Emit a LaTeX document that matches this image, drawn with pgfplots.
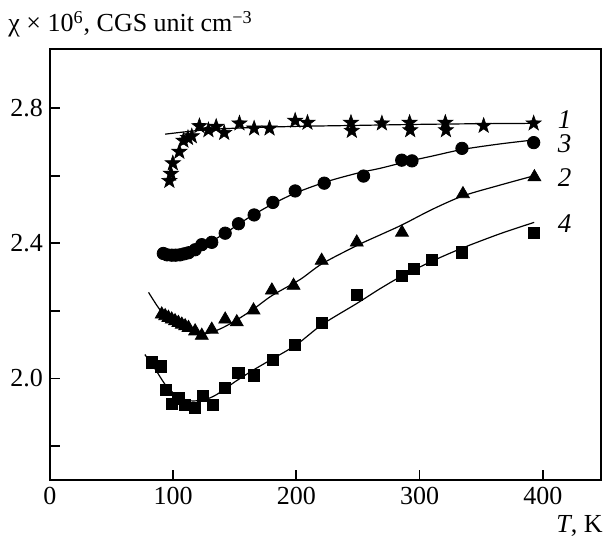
\documentclass[border=0pt]{standalone}
\usepackage{fontspec}
\setmainfont{Liberation Serif}
\usepackage{pgfplots}
\pgfplotsset{compat=1.18}

\pgfdeclareplotmark{fstar}{%
  \pgfpathmoveto{\pgfpointpolar{90}{1.25\pgfplotmarksize}}%
  \pgfpathlineto{\pgfpointpolar{126}{0.5\pgfplotmarksize}}%
  \pgfpathlineto{\pgfpointpolar{162}{1.25\pgfplotmarksize}}%
  \pgfpathlineto{\pgfpointpolar{198}{0.5\pgfplotmarksize}}%
  \pgfpathlineto{\pgfpointpolar{234}{1.25\pgfplotmarksize}}%
  \pgfpathlineto{\pgfpointpolar{270}{0.5\pgfplotmarksize}}%
  \pgfpathlineto{\pgfpointpolar{306}{1.25\pgfplotmarksize}}%
  \pgfpathlineto{\pgfpointpolar{342}{0.5\pgfplotmarksize}}%
  \pgfpathlineto{\pgfpointpolar{18}{1.25\pgfplotmarksize}}%
  \pgfpathlineto{\pgfpointpolar{54}{0.5\pgfplotmarksize}}%
  \pgfpathclose
  \pgfusepathqfillstroke}

\begin{document}
\begin{tikzpicture}[font=\fontsize{13}{15}\selectfont]
\begin{axis}[
  scale only axis, width=275.4pt, height=215.5pt,
  xmin=0, xmax=447, ymin=1.7, ymax=2.975,
  clip=false,
  axis line style={line width=1pt},
  tick align=inside, tick pos=left, major tick length=5pt,
  tick style={line width=0.9pt, black},
  xtick={0,100,200,300,400}, xticklabels={0,100,200,300,400},
  ytick={1.8,2.0,2.2,2.4,2.6,2.8}, yticklabels={{},2.0,{},2.4,{},2.8},
  /pgf/number format/assume math mode=true,
  tick label style={font=\fontsize{13}{15}\selectfont},
]
% fitted curves
\addplot[black, line width=0.6pt, smooth, no marks] coordinates {
(93.4,2.723) (110,2.730) (130,2.737) (160,2.742) (200,2.746) (250,2.749) (300,2.752) (350,2.754) (393,2.755)};
\addplot[black, line width=0.6pt, smooth, no marks] coordinates {
(92,2.368) (105,2.365) (120,2.385) (140,2.425) (160,2.473) (180,2.515) (200,2.550) (225,2.583) (250,2.608) (268,2.622) (290,2.642) (310,2.658) (335,2.678) (365,2.694) (393,2.706)};
\addplot[black, line width=0.6pt, smooth, no marks] coordinates {
(80,2.255) (90,2.200) (100,2.170) (110,2.150) (124,2.132) (137,2.145) (150,2.170) (165,2.205) (180,2.245) (203,2.293) (221,2.340) (250,2.395) (268,2.425) (286,2.455) (310,2.500) (335,2.540) (365,2.572) (393,2.600)};
\addplot[black, line width=0.6pt, smooth, no marks] coordinates {
(77,2.071) (85,2.030) (95,1.975) (105,1.945) (114,1.934) (125,1.937) (135,1.952) (150,1.990) (165,2.025) (180,2.057) (200,2.100) (221,2.160) (249,2.222) (268,2.266) (286,2.304) (310,2.347) (334,2.385) (365,2.428) (393,2.462)};

% 1: stars
\addplot[only marks, mark=fstar, mark size=3.2pt, black, mark options={fill=black, line width=0.3pt}] coordinates {
(96.9,2.585) (98.2,2.606) (99.7,2.637) (105,2.671) (108.3,2.704) (112,2.712) (115.1,2.717) (121.3,2.747) (128.6,2.735) (134.9,2.745) (141.4,2.727) (153.8,2.755) (165.7,2.740) (178.2,2.740) (199,2.763) (209,2.757) (244.3,2.757) (245,2.733) (269.4,2.755) (291.9,2.757) (292.4,2.735) (320.9,2.757) (321.4,2.735) (352,2.748) (392.6,2.755)};
% 3: circles
\addplot[only marks, mark=*, mark size=3.1pt, black, mark options={fill=black}] coordinates {
(92,2.370) (95,2.366) (98.8,2.365) (102,2.365) (105.6,2.366) (109,2.369) (112.4,2.372) (117.8,2.381) (123.2,2.396) (131.3,2.403) (142.2,2.430) (153,2.458) (165.7,2.484) (180.9,2.521) (199,2.555) (222.6,2.578) (254.5,2.599) (285.5,2.646) (293.8,2.644) (334.4,2.681) (392.6,2.698)};
% 2: triangles
\addplot[only marks, mark=triangle*, mark size=3.7pt, black, mark options={fill=black}] coordinates {
(90.7,2.190) (93.5,2.185) (96.1,2.180) (98.8,2.175) (101.5,2.170) (104.2,2.165) (107,2.160) (109.7,2.155) (112.4,2.150) (117.8,2.140) (123.2,2.127) (131.3,2.145) (142.2,2.175) (151.6,2.167) (165.2,2.202) (180.1,2.261) (197.7,2.275) (220.5,2.349) (249,2.403) (285.7,2.432) (335.2,2.546) (393.2,2.596)};
% 4: squares
\addplot[only marks, mark=square*, mark size=2.8pt, black, mark options={fill=black}] coordinates {
(82.6,2.048) (89.9,2.036) (94.2,1.966) (98.8,1.924) (104.2,1.941) (109.7,1.921) (117.8,1.914) (124,1.948) (132.2,1.921) (142.2,1.973) (153,2.017) (165.2,2.009) (180.9,2.054) (198.6,2.100) (220.7,2.165) (249.2,2.248) (285.7,2.304) (295.2,2.324) (310,2.350) (334.4,2.373) (392.6,2.430)};

\node[anchor=base west, inner sep=0pt, font=\fontsize{13.5}{15}\itshape] at (axis cs:412,2.739) {1};
\node[anchor=base west, inner sep=0pt, font=\fontsize{13.5}{15}\itshape] at (axis cs:412,2.668) {3};
\node[anchor=base west, inner sep=0pt, font=\fontsize{13.5}{15}\itshape] at (axis cs:412,2.568) {2};
\node[anchor=base west, inner sep=0pt, font=\fontsize{13.5}{15}\itshape] at (axis cs:412,2.433) {4};

\node[anchor=base west, inner sep=0pt, xshift=-21pt, yshift=8.5pt] at (rel axis cs:0,1) {χ × 10\textsuperscript{6}, CGS unit cm\textsuperscript{−3}};
\node[anchor=base east, inner sep=0pt, xshift=1.2pt, yshift=-26.5pt] at (rel axis cs:1,0) {\textit{T}, K};

\path (rel axis cs:0,0) ++(-25pt,-28.5pt) (rel axis cs:1,1) ++(2.15pt,24.5pt);
\end{axis}
\end{tikzpicture}
\end{document}
